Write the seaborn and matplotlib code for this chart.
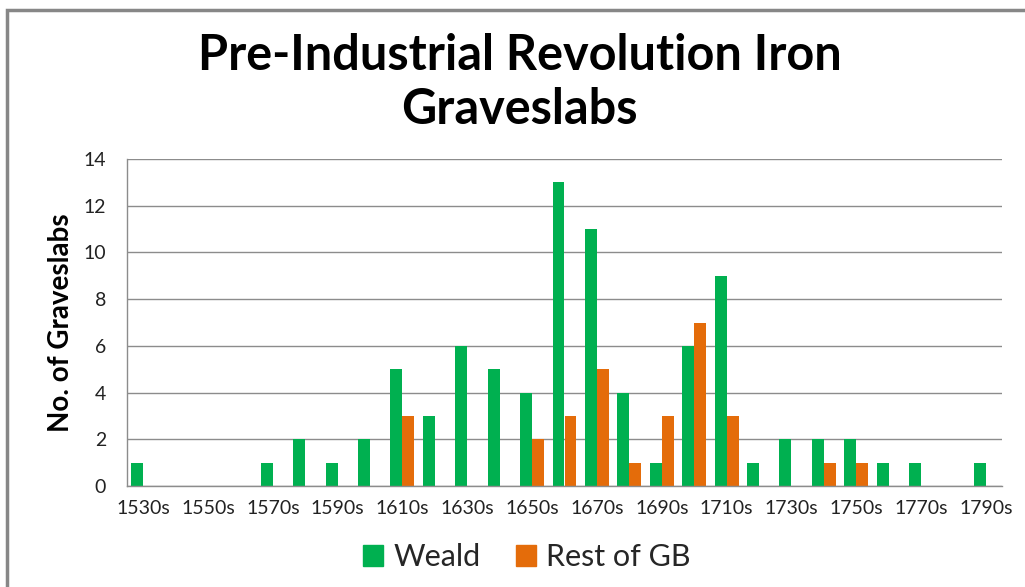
import matplotlib
matplotlib.use("Agg")
import matplotlib.pyplot as plt
import numpy as np
import pandas as pd
import seaborn as sns
from matplotlib.patches import Rectangle

decades = [f"{y}s" for y in range(1530, 1800, 10)]
weald = [1, 0, 0, 0, 1, 2, 1, 2, 5, 3, 6, 5, 4, 13, 11, 4, 1, 6, 9, 1, 2, 2, 2, 1, 1, 0, 1]
rest_of_gb = [0, 0, 0, 0, 0, 0, 0, 0, 3, 0, 0, 0, 2, 3, 5, 1, 3, 7, 3, 0, 0, 1, 1, 0, 0, 0, 0]
series_names = ["Weald", "Rest of GB"]
colors = {"Weald": "#00B050", "Rest of GB": "#E46C0A"}

df = pd.DataFrame({
    "decade": decades * 2,
    "series": [series_names[0]] * len(decades) + [series_names[1]] * len(decades),
    "count": weald + rest_of_gb,
})

sns.set_theme(style="white")
plt.rcParams["font.family"] = ["Lato", "DejaVu Sans"]

fig = plt.figure(figsize=(10.25, 5.87), dpi=100)
ax = fig.add_axes([127 / 1025, 1 - 486 / 587, (1002 - 127) / 1025, (486 - 159) / 587])

sns.barplot(data=df, x="decade", y="count", hue="series", order=decades,
            hue_order=series_names, palette=colors, width=0.74, linewidth=0,
            saturation=1, ax=ax, legend=False)

grid_c = "#8C8C8C"
ax.set_xlim(-0.5, len(decades) - 0.5)
ax.set_ylim(0, 14)
ax.set_yticks(range(0, 15, 2))
ax.yaxis.grid(True, color=grid_c, linewidth=1)
ax.set_axisbelow(True)
for s in ["top", "right"]:
    ax.spines[s].set_visible(False)
for s in ["left", "bottom"]:
    ax.spines[s].set_color(grid_c)
    ax.spines[s].set_linewidth(1)

ax.set_xticks(range(0, len(decades), 2))
ax.set_xticklabels(decades[::2], fontsize=14, color="#222222")
ax.set_xticks(np.arange(-0.5, len(decades), 1), minor=True)
ax.tick_params(axis="x", which="major", length=0, pad=10)
ax.tick_params(axis="x", which="minor", length=6, color=grid_c, width=1, direction="out")
ax.tick_params(axis="y", length=7, color=grid_c, width=1, direction="out",
               labelsize=14, labelcolor="#222222", pad=8)
ax.set_xlabel("")
ax.set_ylabel("No. of Graveslabs", fontsize=20, fontweight="bold", labelpad=7,
              color="black")

fig.text(0.507, 0.859, "Pre-Industrial Revolution Iron\nGraveslabs", ha="center",
         va="center", fontsize=35, fontweight="bold", linespacing=1.25, color="black")

handles = [Rectangle((0, 0), 1, 1, color=colors[n]) for n in series_names]
fig.legend(handles, series_names, loc="center", bbox_to_anchor=(0.514, 0.051),
           ncol=2, frameon=False, fontsize=22, handlelength=0.65, handleheight=0.65,
           columnspacing=1.15, handletextpad=0.35)

fig.patches.append(Rectangle((7 / 1025, -0.1), 1.1, 1 - 10 / 587 + 0.1,
                             transform=fig.transFigure, fill=False,
                             edgecolor="#878787", linewidth=2.5))

fig.savefig("out.png", dpi=100)
